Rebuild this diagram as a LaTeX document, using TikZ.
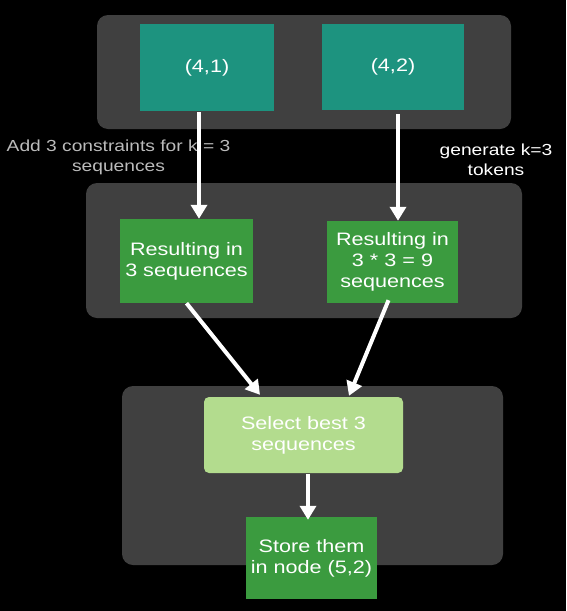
\documentclass[tikz,border=0pt]{standalone}
\usepackage{fontspec}
\setmainfont{Liberation Sans}[FakeStretch=1.2]
\usetikzlibrary{arrows.meta}
\definecolor{panelc}{HTML}{404040}
\definecolor{tealc}{HTML}{1D937F}
\definecolor{greenc}{HTML}{3B9B3F}
\definecolor{lightc}{HTML}{B3DC8E}
\definecolor{labgray}{HTML}{BBBBBB}
\tikzset{
  panel/.style={fill=panelc, draw=none, rounded corners=11pt},
  box/.style={draw=none, inner sep=0pt, align=center, text=white,
    font=\fontsize{18}{21}\selectfont},
  tealbox/.style={box, fill=tealc},
  greenbox/.style={box, fill=greenc},
  lightbox/.style={box, fill=lightc, rounded corners=5pt},
  lab/.style={inner sep=0pt, align=center, font=\fontsize{16}{20}\selectfont},
  arr/.style={draw=white, line width=4pt, -{Triangle[width=16pt,length=14pt]}}
}
\begin{document}
\begin{tikzpicture}[x=1pt,y=-1pt]
\fill[black] (0,0) rectangle (566,611);
\useasboundingbox (0,0) rectangle (566,611);
% panels
\fill[panel] (97,15) rectangle (511,129);
\fill[panel] (86,183) rectangle (522,318);
\fill[panel] (122,386) rectangle (503,565);
% nodes
\node[tealbox, minimum width=134pt, minimum height=87pt] (n41) at (207,67.5) {(4,1)};
\node[tealbox, minimum width=142pt, minimum height=86pt] (n42) at (393,67) {(4,2)};
\node[greenbox, minimum width=133pt, minimum height=84pt] (r1) at (186.5,261) {Resulting in\\3 sequences};
\node[greenbox, minimum width=131pt, minimum height=82pt] (r2) at (392.5,262) {Resulting in\\3 * 3 = 9\\sequences};
\node[lightbox, minimum width=199pt, minimum height=76pt] (sel) at (303.5,435) {Select best 3\\sequences};
\node[greenbox, minimum width=131pt, minimum height=82pt] (st) at (311.5,558) {Store them\\in node (5,2)};
% labels
\node[lab, text=labgray] (lab1) at (118.5,157) {Add 3 constraints for k = 3\\sequences};
\node[lab, text=white] (lab2) at (496,160) {generate k=3\\tokens};
% arrows
\draw[arr] ([xshift=-8pt,yshift=-1pt]n41.south) -- ([xshift=12.5pt]r1.north);
\draw[arr] ([xshift=5pt,yshift=-4pt]n42.south) -- ([xshift=5.5pt]r2.north);
\draw[arr] (r1.south) -- ([xshift=-43.5pt,yshift=2pt]sel.north);
\draw[arr] ([xshift=-4pt,yshift=3pt]r2.south) -- ([xshift=45.5pt,yshift=1pt]sel.north);
\draw[arr] ([xshift=4.5pt,yshift=-1pt]sel.south) -- ([xshift=-3.5pt,yshift=-3pt]st.north);
\end{tikzpicture}
\end{document}
